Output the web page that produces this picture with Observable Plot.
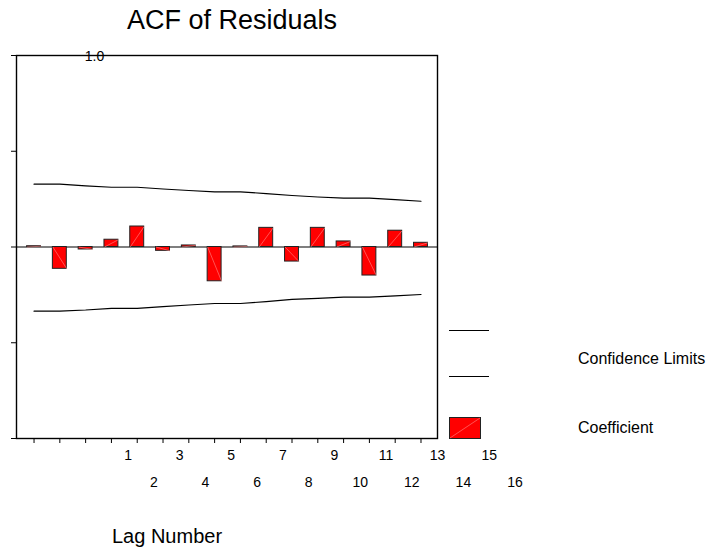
<!DOCTYPE html>
<html><head><meta charset="utf-8">
<script src="https://cdn.jsdelivr.net/npm/d3@7"></script>
<script src="https://cdn.jsdelivr.net/npm/@observablehq/plot@0.6"></script>
<style>
body{margin:0;background:#fff;font-family:"Liberation Sans",Arial,sans-serif;}
#wrap{position:relative;width:708px;height:550px;overflow:hidden;background:#fff}
#chart{position:absolute;left:0;top:0}
.abs{position:absolute;white-space:nowrap;color:#000;line-height:1}
</style></head><body>
<div id="wrap">
<div id="chart"></div>
<div class="abs" id="title" style="left:0;width:464px;top:7px;text-align:center;font-size:27px">ACF of Residuals</div>
<div class="abs" style="left:112px;top:526px;font-size:20px">Lag Number</div>
<div class="abs" style="left:449px;top:330px;width:40px;border-top:1.3px solid #000"></div>
<div class="abs" style="left:449px;top:375.5px;width:40px;border-top:1.3px solid #000"></div>
<svg class="abs" style="left:449px;top:417px" width="32" height="22"><rect x="0.5" y="0.5" width="31" height="21" fill="#ff0000" stroke="#222" stroke-width="1"/><line x1="1" y1="21" x2="31" y2="1" stroke="#ff8a8a" stroke-width="0.6"/></svg>
<div class="abs" style="left:578px;top:350.5px;font-size:16px">Confidence Limits</div>
<div class="abs" style="left:578px;top:420px;font-size:16px">Coefficient</div>
</div>
<script>
// ---- data ----
const lags = [1,2,3,4,5,6,7,8,9,10,11,12,13,14,15,16];
const coefficient = [0.004,-0.114,-0.013,0.038,0.107,-0.020,0.008,-0.179,0.003,0.100,-0.076,0.100,0.029,-0.149,0.085,0.022];
const upperLimit = [0.328,0.328,0.319,0.312,0.312,0.303,0.295,0.288,0.288,0.279,0.269,0.261,0.255,0.255,0.247,0.239];
const lowerLimit = [-0.335,-0.335,-0.329,-0.320,-0.320,-0.311,-0.303,-0.295,-0.295,-0.285,-0.274,-0.268,-0.262,-0.262,-0.255,-0.248];
const yTicks = [-1,-0.5,0,0.5,1];
const yTickLabels = [{value:1, label:"1.0"}];
const xTickLabels = lags.map(String);

const bars = lags.map((l,i)=>({lag:l, value:coefficient[i]}));
const upper = lags.map((l,i)=>({lag:l, value:upperLimit[i]}));
const lower = lags.map((l,i)=>({lag:l, value:lowerLimit[i]}));
const labels = lags.map((l,i)=>({lag:l, text:xTickLabels[i], row:(l%2===1)?0:1}));

const half = 0.27;
const font = "Liberation Sans, Arial, sans-serif";

const chart = Plot.plot({
  width: 708, height: 550,
  marginLeft: 16, marginTop: 55, marginRight: 271, marginBottom: 112,
  style: {fontFamily: font, background: "transparent", overflow: "visible"},
  x: {type: "linear", domain: [0.32, 16.64], axis: null},
  y: {domain: [-1, 1], axis: null},
  marks: [
    Plot.axisY(yTicks, {tickSize: 5, tickFormat: () => "", label: null, stroke: "#000"}),
    Plot.axisX(lags, {tickSize: 5, tickFormat: () => "", label: null, stroke: "#000"}),
    Plot.ruleY([0], {stroke: "#000", strokeWidth: 1.2}),
    Plot.rect(bars, {x1: d => d.lag - half, x2: d => d.lag + half, y1: 0, y2: "value", fill: "#ff0000", stroke: "#222", strokeWidth: 1}),
    Plot.link(bars, {x1: d => d.lag - half, y1: 0, x2: d => d.lag + half, y2: "value", stroke: "#ff8a8a", strokeWidth: 0.6}),
    Plot.line(upper, {x: "lag", y: "value", stroke: "#000", strokeWidth: 1.2}),
    Plot.line(lower, {x: "lag", y: "value", stroke: "#000", strokeWidth: 1.2}),
    Plot.frame({stroke: "#000", strokeWidth: 1.4}),
    Plot.text(yTickLabels, {y: "value", text: "label", frameAnchor: "left", dx: 78, dy: 1.5, textAnchor: "middle", fontSize: 14, fill: "#000"}),
    Plot.text(labels.filter(d => d.row === 0), {x: "lag", text: "text", frameAnchor: "bottom", dx: 94, dy: 21, fontSize: 14, fill: "#000"}),
    Plot.text(labels.filter(d => d.row === 1), {x: "lag", text: "text", frameAnchor: "bottom", dx: 94, dy: 48, fontSize: 14, fill: "#000"})
  ]
});
document.getElementById("chart").appendChild(chart);
</script>
</body></html>
